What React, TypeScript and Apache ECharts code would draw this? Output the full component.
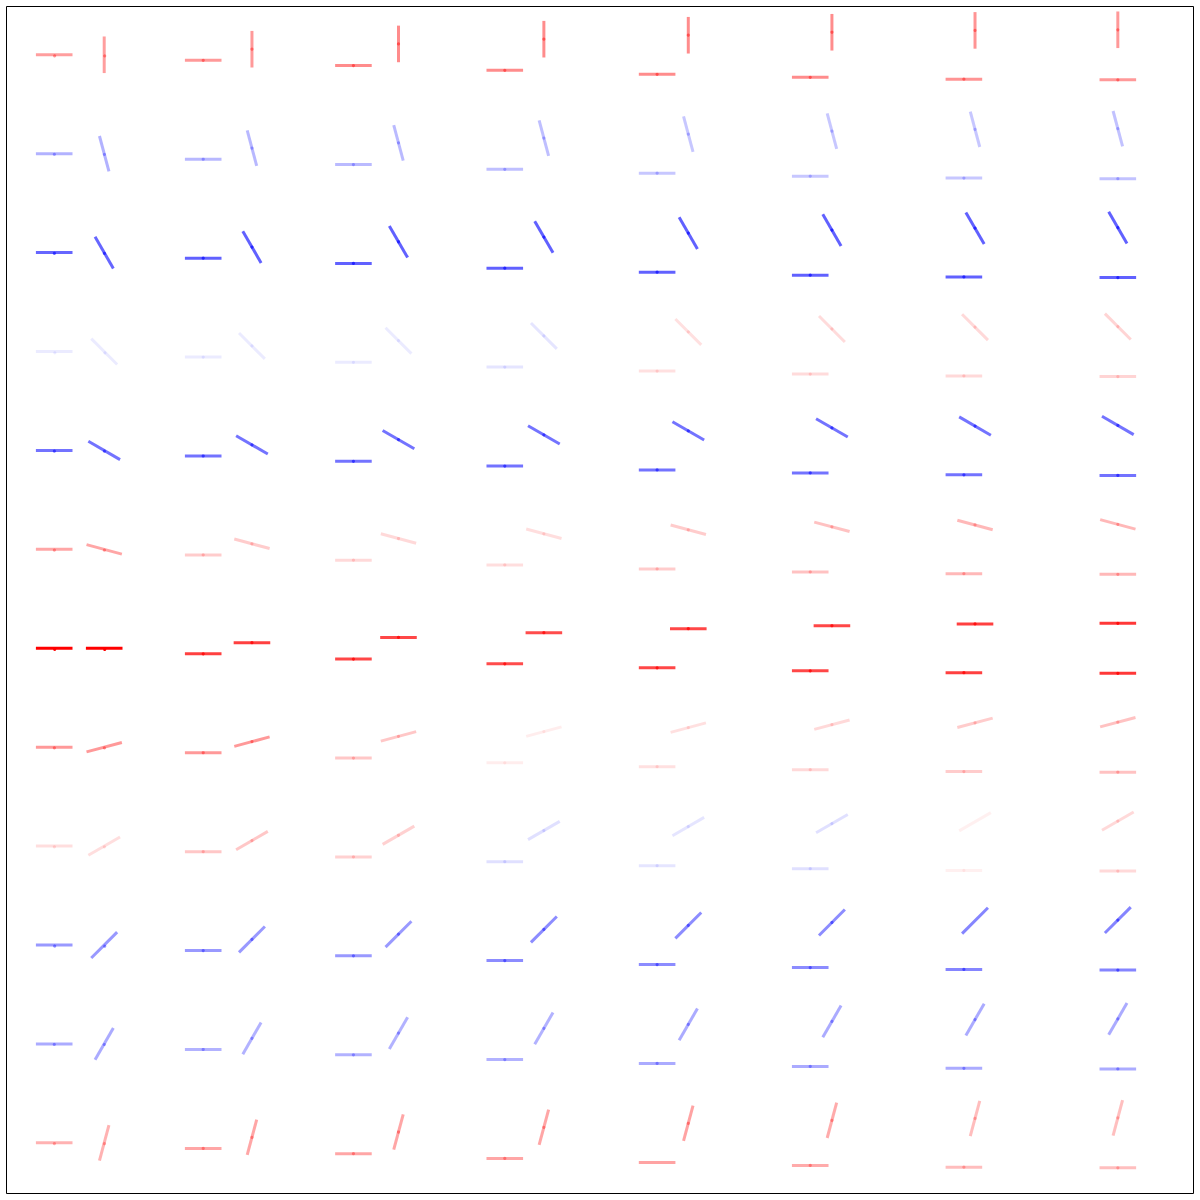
import React, { useEffect, useRef } from "react";
import * as echarts from "echarts";

// Rotation of each column's pair (degrees)
const colAngles = [0, 12.86, 25.71, 38.57, 51.43, 64.29, 77.14, 90];
// Orientation of the right-hand segment for each row (degrees)
const rowAngles = [90, 105, 120, 135, 150, 165, 180, 195, 210, 225, 240, 255];

// Signed strength per row (positive = red, negative = blue), one value per column
const row0 = [0.38, 0.4, 0.45, 0.45, 0.45, 0.45, 0.42, 0.4];
const row1 = [-0.3, -0.28, -0.27, -0.25, -0.22, -0.22, -0.22, -0.24];
const row2 = [-0.6, -0.62, -0.62, -0.62, -0.62, -0.62, -0.62, -0.62];
const row3 = [-0.08, -0.08, -0.08, -0.1, 0.12, 0.14, 0.15, 0.17];
const row4 = [-0.55, -0.55, -0.55, -0.55, -0.55, -0.55, -0.55, -0.55];
const row5 = [0.35, 0.2, 0.15, 0.13, 0.2, 0.24, 0.28, 0.28];
const row6 = [1.0, 0.75, 0.72, 0.7, 0.72, 0.72, 0.75, 0.78];
const row7 = [0.4, 0.4, 0.22, 0.07, 0.12, 0.15, 0.2, 0.24];
const row8 = [0.13, 0.22, 0.18, -0.12, -0.1, -0.12, 0.06, 0.15];
const row9 = [-0.4, -0.4, -0.4, -0.45, -0.45, -0.45, -0.48, -0.48];
const row10 = [-0.33, -0.3, -0.3, -0.3, -0.33, -0.33, -0.33, -0.33];
const row11 = [0.3, 0.35, 0.35, 0.35, 0.36, 0.33, 0.26, 0.25];
const rows = [row0, row1, row2, row3, row4, row5, row6, row7, row8, row9, row10, row11];

const SEP = 25; // px offset of each segment from the pair centre
const HALF = 18.3; // px half-length of a segment
const LW = 3;
const DOT = 1.6;

export default function App() {
  const ref = useRef<HTMLDivElement>(null);
  useEffect(() => {
    if (!ref.current) return;
    const chart = echarts.init(ref.current, null, { renderer: "svg" });
    const data: number[][] = [];
    rows.forEach((r, j) => r.forEach((v, k) => data.push([k, j, v])));
    chart.setOption({
      animation: false,
      backgroundColor: "#fff",
      grid: {
        left: 6.5,
        top: 6.5,
        right: 6.5,
        bottom: 6.5,
        show: true,
        borderColor: "#000",
        borderWidth: 1,
        backgroundColor: "transparent",
      },
      xAxis: {
        type: "value",
        min: -0.49,
        max: 7.51,
        show: false,
      },
      yAxis: {
        type: "value",
        min: -0.488,
        max: 11.512,
        inverse: true,
        show: false,
      },
      series: [
        {
          type: "custom",
          data,
          clip: false,
          renderItem: (params: any, api: any) => {
            const k = api.value(0);
            const j = api.value(1);
            const v = api.value(2);
            const th = (colAngles[k] * Math.PI) / 180;
            const ph = (rowAngles[j] * Math.PI) / 180;
            const c = api.coord([k, j]);
            const lx = c[0] - SEP * Math.cos(th);
            const ly = c[1] + SEP * Math.sin(th);
            const rx = c[0] + SEP * Math.cos(th);
            const ry = c[1] - SEP * Math.sin(th);
            const a = Math.min(1, Math.abs(v));
            const col = v >= 0 ? `rgba(255,0,0,${a})` : `rgba(0,0,255,${a})`;
            const dx = HALF * Math.cos(ph);
            const dy = -HALF * Math.sin(ph);
            return {
              type: "group",
              children: [
                {
                  type: "line",
                  shape: { x1: lx - HALF, y1: ly, x2: lx + HALF, y2: ly },
                  style: { stroke: col, lineWidth: LW, lineCap: "butt" },
                },
                {
                  type: "line",
                  shape: { x1: rx - dx, y1: ry - dy, x2: rx + dx, y2: ry + dy },
                  style: { stroke: col, lineWidth: LW, lineCap: "butt" },
                },
                {
                  type: "circle",
                  shape: { cx: lx, cy: ly, r: DOT },
                  style: { fill: col, stroke: null },
                },
                {
                  type: "circle",
                  shape: { cx: rx, cy: ry, r: DOT },
                  style: { fill: col, stroke: null },
                },
              ],
            };
          },
        },
      ],
    });
    return () => chart.dispose();
  }, []);
  return (
    <div
      ref={ref}
      style={{ position: "absolute", left: 0, top: 0, width: 1200, height: 1200 }}
    />
  );
}
